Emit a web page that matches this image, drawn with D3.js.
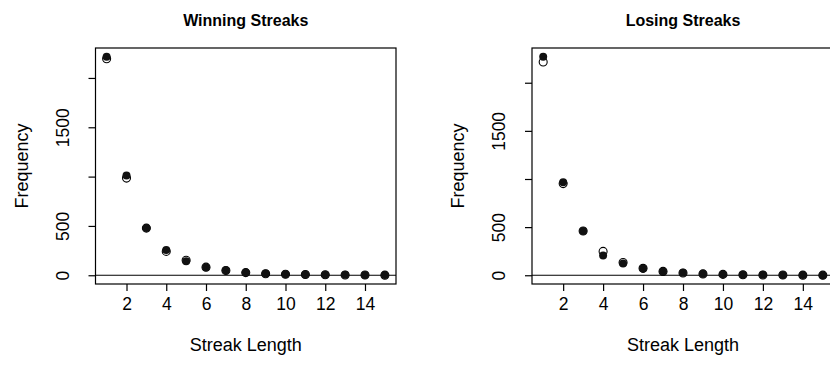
<!DOCTYPE html>
<html>
<head>
<meta charset="utf-8">
<script src="https://cdn.jsdelivr.net/npm/d3@7"></script>
<style>
    body { margin: 0; background: #fff; }
    svg { display: block; }
    text { font-family: "Liberation Sans", Arial, Helvetica, sans-serif; fill: #000; }
</style>
</head>
<body>
<svg id="chart" width="830" height="373"></svg>
<script>
// streak lengths on the x axis
const streakLength = [1, 2, 3, 4, 5, 6, 7, 8, 9, 10, 11, 12, 13, 14, 15];

// winning streaks: observed (filled) and expected (open)
const winObserved = [2215, 1010, 480, 255, 143, 80, 50, 28, 17, 11, 8, 6, 4, 3, 2];
const winExpected = [2195, 985, 478, 242, 152, 82, 48, 27, 16, 10, 7, 5, 3, 2, 1];

// losing streaks: observed (filled) and expected (open)
const loseObserved = [2270, 965, 460, 205, 123, 70, 42, 25, 15, 10, 6, 4, 3, 2, 1];
const loseExpected = [2215, 952, 460, 248, 133, 72, 40, 23, 14, 9, 5, 3, 2, 1, 1];

// ticks
const xTickValues = [2, 4, 6, 8, 10, 12, 14];
const yTickValues = [0, 500, 1000, 1500, 2000];
const yTickLabels = ["0", "500", "", "1500", ""];

const svg = d3.select("#chart");

/**
 * one R-style panel: box, axes, h=0 line and the two point series
 */
function drawPanel({ x0, x1, title, observed, expected }) {
    const top = 48, bottom = 284;
    const maxY = d3.max(observed.concat(expected));

    // R pads the data range by 4% on each side
    const xScale = d3.scaleLinear().domain([1 - 0.56, 15 + 0.56]).range([x0, x1]);
    const yScale = d3.scaleLinear().domain([-0.04 * maxY, 1.04 * maxY]).range([bottom, top]);

    const g = svg.append("g");

    // box
    g.append("rect")
        .attr("x", x0).attr("y", top)
        .attr("width", x1 - x0).attr("height", bottom - top)
        .attr("fill", "none").attr("stroke", "#000").attr("stroke-width", 1.2);

    // x axis
    const xAxis = d3.axisBottom(xScale).tickValues(xTickValues).tickSize(7).tickPadding(7).tickFormat(d3.format("d"));
    g.append("g")
        .attr("transform", "translate(0," + bottom + ")")
        .call(xAxis)
        .call(a => a.select(".domain").remove())
        .call(a => a.selectAll("line").attr("stroke", "#000").attr("stroke-width", 1.2))
        .call(a => a.selectAll("text").attr("font-size", 17.5).attr("font-family", null));

    // y axis, labels rotated like R's default las=0
    const yAxis = d3.axisLeft(yScale).tickValues(yTickValues).tickSize(7)
        .tickFormat((d, i) => yTickLabels[i]);
    const ya = g.append("g")
        .attr("transform", "translate(" + x0 + ",0)")
        .call(yAxis)
        .call(a => a.select(".domain").remove())
        .call(a => a.selectAll("line").attr("stroke", "#000").attr("stroke-width", 1.2));
    ya.selectAll("text")
        .attr("font-size", 17.5)
        .attr("font-family", null)
        .attr("x", null).attr("dy", null)
        .attr("text-anchor", "middle")
        .attr("transform", "translate(-27,0) rotate(-90)");

    // horizontal reference line at 0
    g.append("line")
        .attr("x1", x0).attr("x2", x1)
        .attr("y1", yScale(0)).attr("y2", yScale(0))
        .attr("stroke", "#000").attr("stroke-width", 1.2);

    // open circles (expected)
    g.selectAll("circle.exp")
        .data(expected)
        .enter()
        .append("circle")
        .attr("class", "exp")
        .attr("cx", (d, i) => xScale(streakLength[i]))
        .attr("cy", d => yScale(d))
        .attr("r", 4)
        .attr("fill", "none")
        .attr("stroke", "#000")
        .attr("stroke-width", 1.1);

    // filled circles (observed)
    g.selectAll("circle.obs")
        .data(observed)
        .enter()
        .append("circle")
        .attr("class", "obs")
        .attr("cx", (d, i) => xScale(streakLength[i]))
        .attr("cy", d => yScale(d))
        .attr("r", 4)
        .attr("fill", "#111");

    const cx = (x0 + x1) / 2;

    // title
    g.append("text")
        .attr("x", cx).attr("y", 26)
        .attr("text-anchor", "middle")
        .attr("font-size", 16)
        .attr("font-weight", "bold")
        .text(title);

    // x label
    g.append("text")
        .attr("x", cx).attr("y", 351)
        .attr("text-anchor", "middle")
        .attr("font-size", 18)
        .text("Streak Length");

    // y label
    g.append("text")
        .attr("transform", "translate(" + (x0 - 68) + "," + ((top + bottom) / 2) + ") rotate(-90)")
        .attr("text-anchor", "middle")
        .attr("font-size", 18)
        .text("Frequency");
}

drawPanel({ x0: 95.5, x1: 396, title: "Winning Streaks", observed: winObserved, expected: winExpected });
drawPanel({ x0: 532, x1: 834, title: "Losing Streaks", observed: loseObserved, expected: loseExpected });
</script>
</body>
</html>
